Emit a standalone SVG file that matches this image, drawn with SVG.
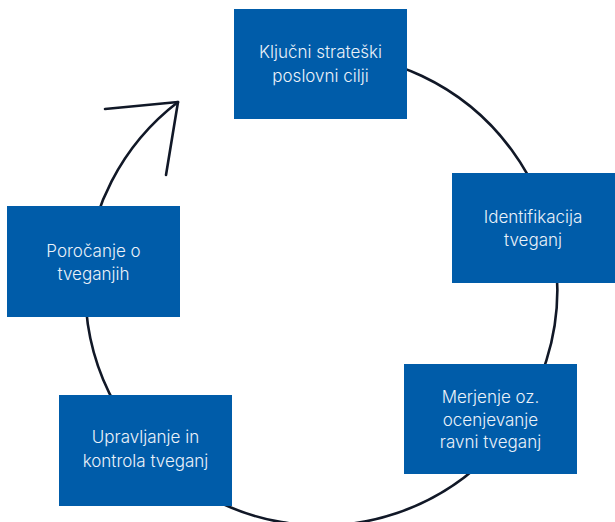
<svg xmlns="http://www.w3.org/2000/svg" width="615" height="522" viewBox="0 0 615 522">
<style>
.box{fill:#005CA9}
.lbl{font-family:Inter,"Liberation Sans",sans-serif;font-size:17px;font-weight:300;fill:#EAF1F9;text-anchor:middle}
.ln{fill:none;stroke:#111827;stroke-width:2.6;stroke-linecap:round;stroke-linejoin:round}
</style>
<rect width="615" height="522" fill="#ffffff"/>
<g id="connectors">
<path class="ln" d="M 321 53.5 A 236 236 0 1 1 178 102"/>
<path class="ln" d="M 105 109 L 178 102 L 166 175"/>
</g>
<g id="n1"><rect class="box" x="234" y="9" width="173" height="110"/>
<text class="lbl" x="320.5" y="58">Ključni strateški</text><text class="lbl" x="320.5" y="82">poslovni cilji</text></g>
<g id="n2"><rect class="box" x="452" y="173" width="163" height="110"/>
<text class="lbl" x="533" y="223">Identifikacija</text><text class="lbl" x="533" y="246">tveganj</text></g>
<g id="n3"><rect class="box" x="404" y="364" width="173" height="110"/>
<text class="lbl" x="490.5" y="403">Merjenje oz.</text><text class="lbl" x="490.5" y="425.5">ocenjevanje</text><text class="lbl" x="490.5" y="448">ravni tveganj</text></g>
<g id="n4"><rect class="box" x="59" y="395" width="173" height="111"/>
<text class="lbl" x="145.5" y="443">Upravljanje in</text><text class="lbl" x="145.5" y="467">kontrola tveganj</text></g>
<g id="n5"><rect class="box" x="7" y="206" width="173" height="111"/>
<text class="lbl" x="93.5" y="257">Poročanje o</text><text class="lbl" x="93.5" y="280">tveganjih</text></g>
</svg>
